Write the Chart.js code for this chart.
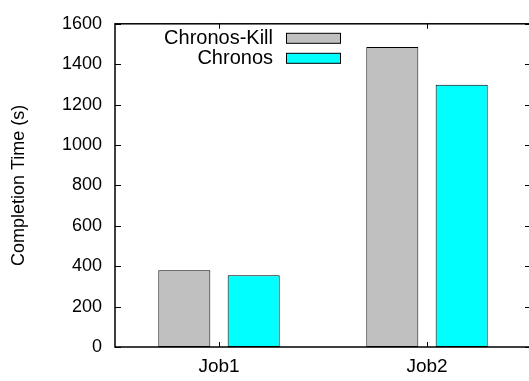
<!DOCTYPE html>
<html>
<head>
<meta charset="utf-8">
<script src="https://cdn.jsdelivr.net/npm/chart.js@4"></script>
<style>
  html, body { margin: 0; padding: 0; background: #fff; overflow: hidden; }
  #wrap { width: 532px; height: 381px; position: relative; }
</style>
</head>
<body>
<div id="wrap"><canvas id="jobChart"></canvas></div>
<script>
const jobs = ['Job1', 'Job2'];
const chronosKill = [380, 1485];
const chronos = [355, 1298];
const yTicks = [0, 200, 400, 600, 800, 1000, 1200, 1400, 1600];

const FONT = 'Liberation Sans, Arial, Helvetica, sans-serif';

// gnuplot style frame, inward ticks and the legend inside the plot
const gnuplotFrame = {
    id: 'gnuplotFrame',
    afterDatasetsDraw(chart) {
        const ctx = chart.ctx;
        const a = chart.chartArea;
        const x = chart.scales.x, y = chart.scales.y;
        ctx.save();
        ctx.strokeStyle = '#000';
        ctx.lineWidth = 1;
        y.ticks.forEach(t => {
            const py = Math.round(y.getPixelForValue(t.value)) + 0.5;
            ctx.beginPath();
            ctx.moveTo(a.left, py); ctx.lineTo(a.left + 6, py);
            ctx.moveTo(a.right, py); ctx.lineTo(a.right - 6, py);
            ctx.stroke();
        });
        jobs.forEach((j, i) => {
            const px = Math.round(x.getPixelForValue(i)) + 0.5;
            ctx.beginPath();
            ctx.moveTo(px, a.bottom); ctx.lineTo(px, a.bottom - 5);
            ctx.moveTo(px, a.top); ctx.lineTo(px, a.top + 5);
            ctx.stroke();
        });
        ctx.lineWidth = 1.5;
        ctx.strokeRect(a.left, a.top, a.right - a.left, a.bottom - a.top);

        // legend
        ctx.font = '20px ' + FONT;
        ctx.textAlign = 'right';
        ctx.textBaseline = 'middle';
        chart.data.datasets.forEach((ds, i) => {
            const cy = a.top + 15 + i * 20;
            ctx.fillStyle = '#000';
            ctx.fillText(ds.label, a.left + 158, cy);
            ctx.fillStyle = ds.backgroundColor;
            ctx.fillRect(a.left + 171.5, cy - 5.5, 54, 10);
            ctx.lineWidth = 1;
            ctx.strokeRect(a.left + 171.5, cy - 5.5, 54, 10);
        });
        ctx.restore();
    }
};

new Chart(document.getElementById('jobChart'), {
    type: 'bar',
    data: {
        labels: jobs,
        datasets: [
            {
                label: 'Chronos-Kill',
                data: chronosKill,
                backgroundColor: '#c0c0c0',
                borderColor: '#000',
                borderWidth: 1,
                borderSkipped: false
            },
            {
                label: 'Chronos',
                data: chronos,
                backgroundColor: '#00ffff',
                borderColor: '#000',
                borderWidth: 1,
                borderSkipped: false
            }
        ]
    },
    options: {
        responsive: true,
        maintainAspectRatio: false,
        animation: false,
        events: [],
        categoryPercentage: 0.667,
        barPercentage: 0.75,
        layout: { padding: { top: 17, right: 1, left: 0, bottom: 0 } },
        plugins: {
            legend: { display: false },
            tooltip: { enabled: false }
        },
        scales: {
            x: {
                grid: { display: false, drawTicks: false },
                border: { display: false },
                ticks: { color: '#000', font: { family: FONT, size: 19 }, padding: 8 },
                afterFit(scale) { scale.height = 34; }
            },
            y: {
                min: 0,
                max: 1600,
                afterBuildTicks(scale) { scale.ticks = yTicks.map(v => ({ value: v })); },
                grid: { display: false, drawTicks: false },
                border: { display: false },
                ticks: {
                    color: '#000',
                    font: { family: FONT, size: 18 },
                    padding: 13,
                    callback: v => String(v)
                },
                title: {
                    display: true,
                    text: 'Completion Time (s)',
                    color: '#000',
                    font: { family: FONT, size: 18 },
                    padding: { top: 8, bottom: 0 }
                },
                afterFit(scale) { scale.width = 115; }
            }
        }
    },
    plugins: [gnuplotFrame]
});
</script>
</body>
</html>
